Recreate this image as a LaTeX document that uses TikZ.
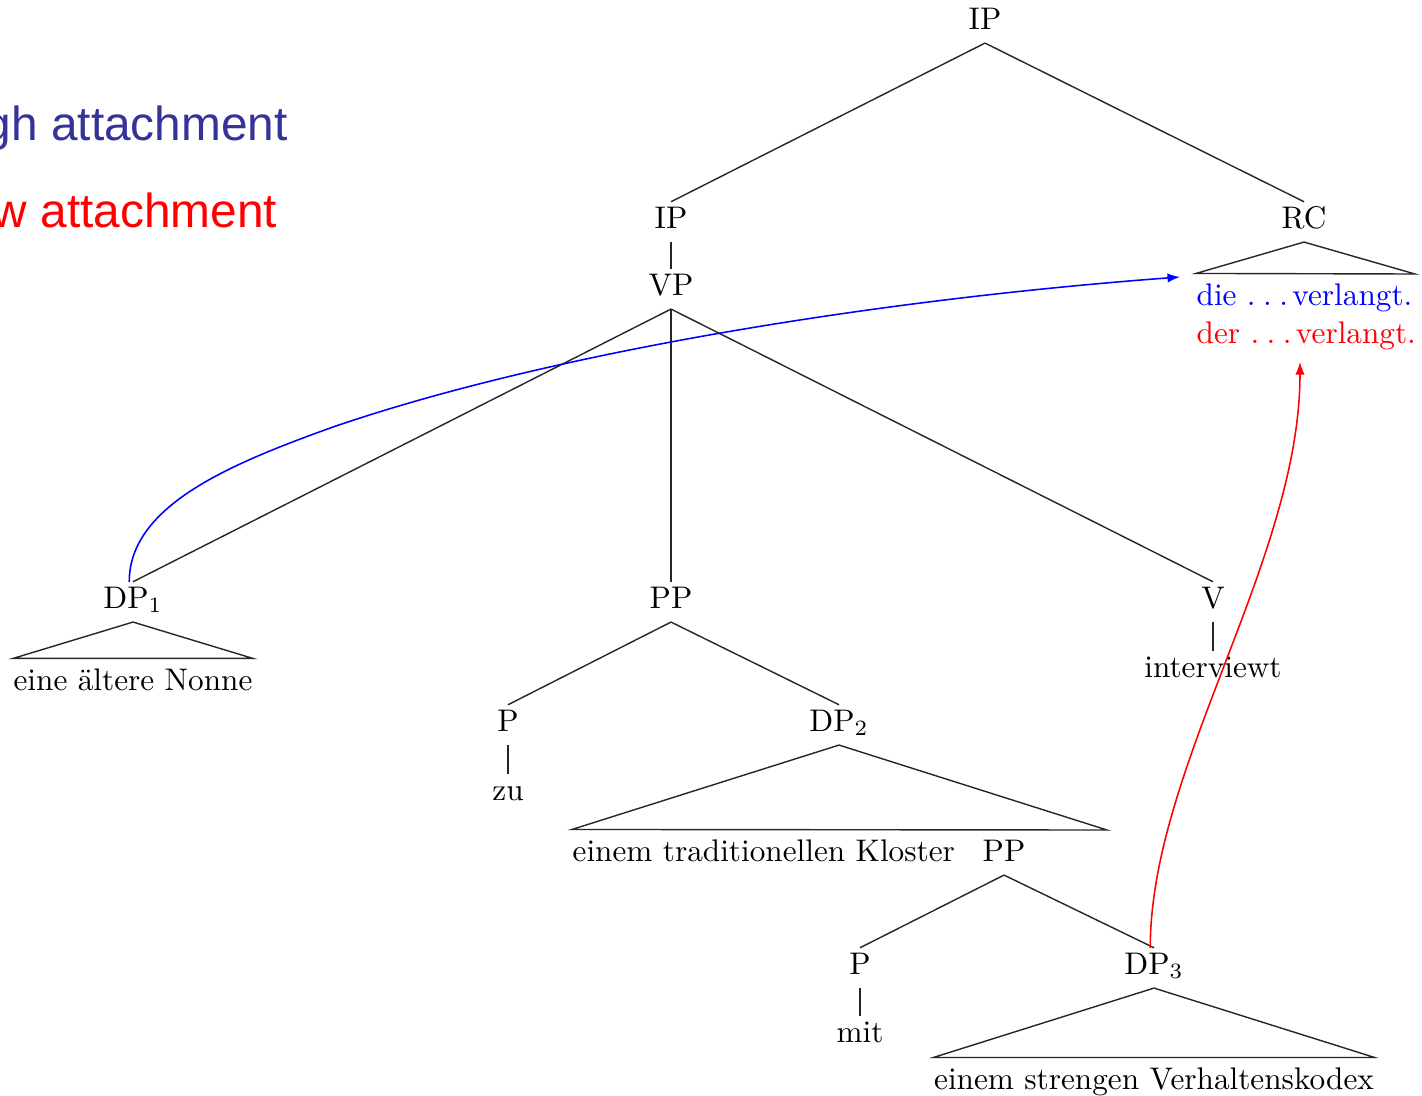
\documentclass[tikz,border=0pt]{standalone}
\usepackage{fontspec}
\newfontfamily\slidefont{Liberation Sans}
\usetikzlibrary{arrows.meta}
\definecolor{hiblue}{RGB}{51,51,153}
\newcommand{\dotsdots}{.\kern0.24em.\kern0.24em.\kern0.14em}
\begin{document}
\begin{tikzpicture}[x=0.32pt,y=-0.32pt,
  cat/.style={anchor=base,inner sep=1.3pt,text height=6.9pt,text depth=3pt},
  leaf/.style={anchor=base,inner xsep=0pt,inner ysep=3pt,text height=6.9pt,text depth=2pt},
  branch/.style={line width=0.45pt,black!85},
  slide/.style={anchor=base west,inner sep=0pt,font=\slidefont\fontsize{15.3}{18}\selectfont},
  attach/.style={line width=0.5pt,-{Latex[length=4pt,width=3pt]}}]
\useasboundingbox (0,0) rectangle (1422,1095);
\clip (0,0) rectangle (1422,1095);
% slide labels
\node[slide,text=hiblue] (hi) at (-61,140) {High attachment};
\node[slide,text=red] (lo) at (-61,227) {Low attachment};
% tree nodes
\node[cat] (ip0) at (985,29) {IP};
\node[cat] (ip1) at (671,228) {IP};
\node[cat] (rc) at (1304,228) {RC};
\node[cat] (vp) at (671,295) {VP};
\node[cat] (dp1) at (133,608) {DP$_1$};
\node[cat] (pp) at (671,608) {PP};
\node[cat] (v) at (1213,608) {V};
\node[cat] (intv) at (1213,677) {interviewt};
\node[cat] (p1) at (508,731) {P};
\node[cat] (zu) at (508,800) {zu};
\node[cat] (dp2) at (839,731) {DP$_2$};
\node[cat] (pp2) at (1004,861) {PP};
\node[cat] (p2) at (860,974) {P};
\node[cat] (mit) at (860,1042) {mit};
\node[cat] (dp3) at (1154,974) {DP$_3$};
% leaves under triangles
\node[leaf] (nonne) at (133,690) {eine ältere Nonne};
\node[leaf,anchor=base west] (kloster) at (572,861) {einem traditionellen Kloster};
\node[leaf] (kodex) at (1154,1089) {einem strengen Verhaltenskodex};
\node[leaf,anchor=base west,text=blue] (die) at (1196,305) {die \dotsdots verlangt.};
\node[cat,anchor=base west,text=red,inner xsep=0pt] (der) at (1196,343) {der \dotsdots verlangt.};
\coordinate (dp2r) at (1107,830);
\coordinate (rcr) at (1415,274);
\coordinate (rcin) at (1180,277);
\coordinate (bmid) at (333,427);
\coordinate (rcdot) at (1300,362);
% branches
\draw[branch] (ip0.south) -- (ip1.north);
\draw[branch] (ip0.south) -- (rc.north);
\draw[branch] (ip1.south) -- (vp.north);
\draw[branch] (vp.south) -- (dp1.north);
\draw[branch] (vp.south) -- (pp.north);
\draw[branch] (vp.south) -- (v.north);
\draw[branch] (v.south) -- (intv.north);
\draw[branch] (pp.south) -- (p1.north);
\draw[branch] (pp.south) -- (dp2.north);
\draw[branch] (p1.south) -- (zu.north);
\draw[branch] (pp2.south) -- (p2.north);
\draw[branch] (pp2.south) -- (dp3.north);
\draw[branch] (p2.south) -- (mit.north);
% triangles
\draw[branch] (rc.south) -- (die.north west) -- (rcr) -- cycle;
\draw[branch] (dp1.south) -- (nonne.north west) -- (nonne.north east) -- cycle;
\draw[branch] (dp2.south) -- (kloster.north west) -- (dp2r) -- cycle;
\draw[branch] (dp3.south) -- (kodex.north west) -- (kodex.north east) -- cycle;
% attachment arrows
\draw[attach,blue] ([xshift=-1.2pt]dp1.north) .. controls +(0,-77) and (233,463) .. (bmid)
   .. controls (553,351.5) and (880,299.5) .. (rcin);
\draw[attach,red] ([xshift=-1.2pt]dp3.north) .. controls +(0,-180) and +(0,198) .. (rcdot);
\end{tikzpicture}
\end{document}
